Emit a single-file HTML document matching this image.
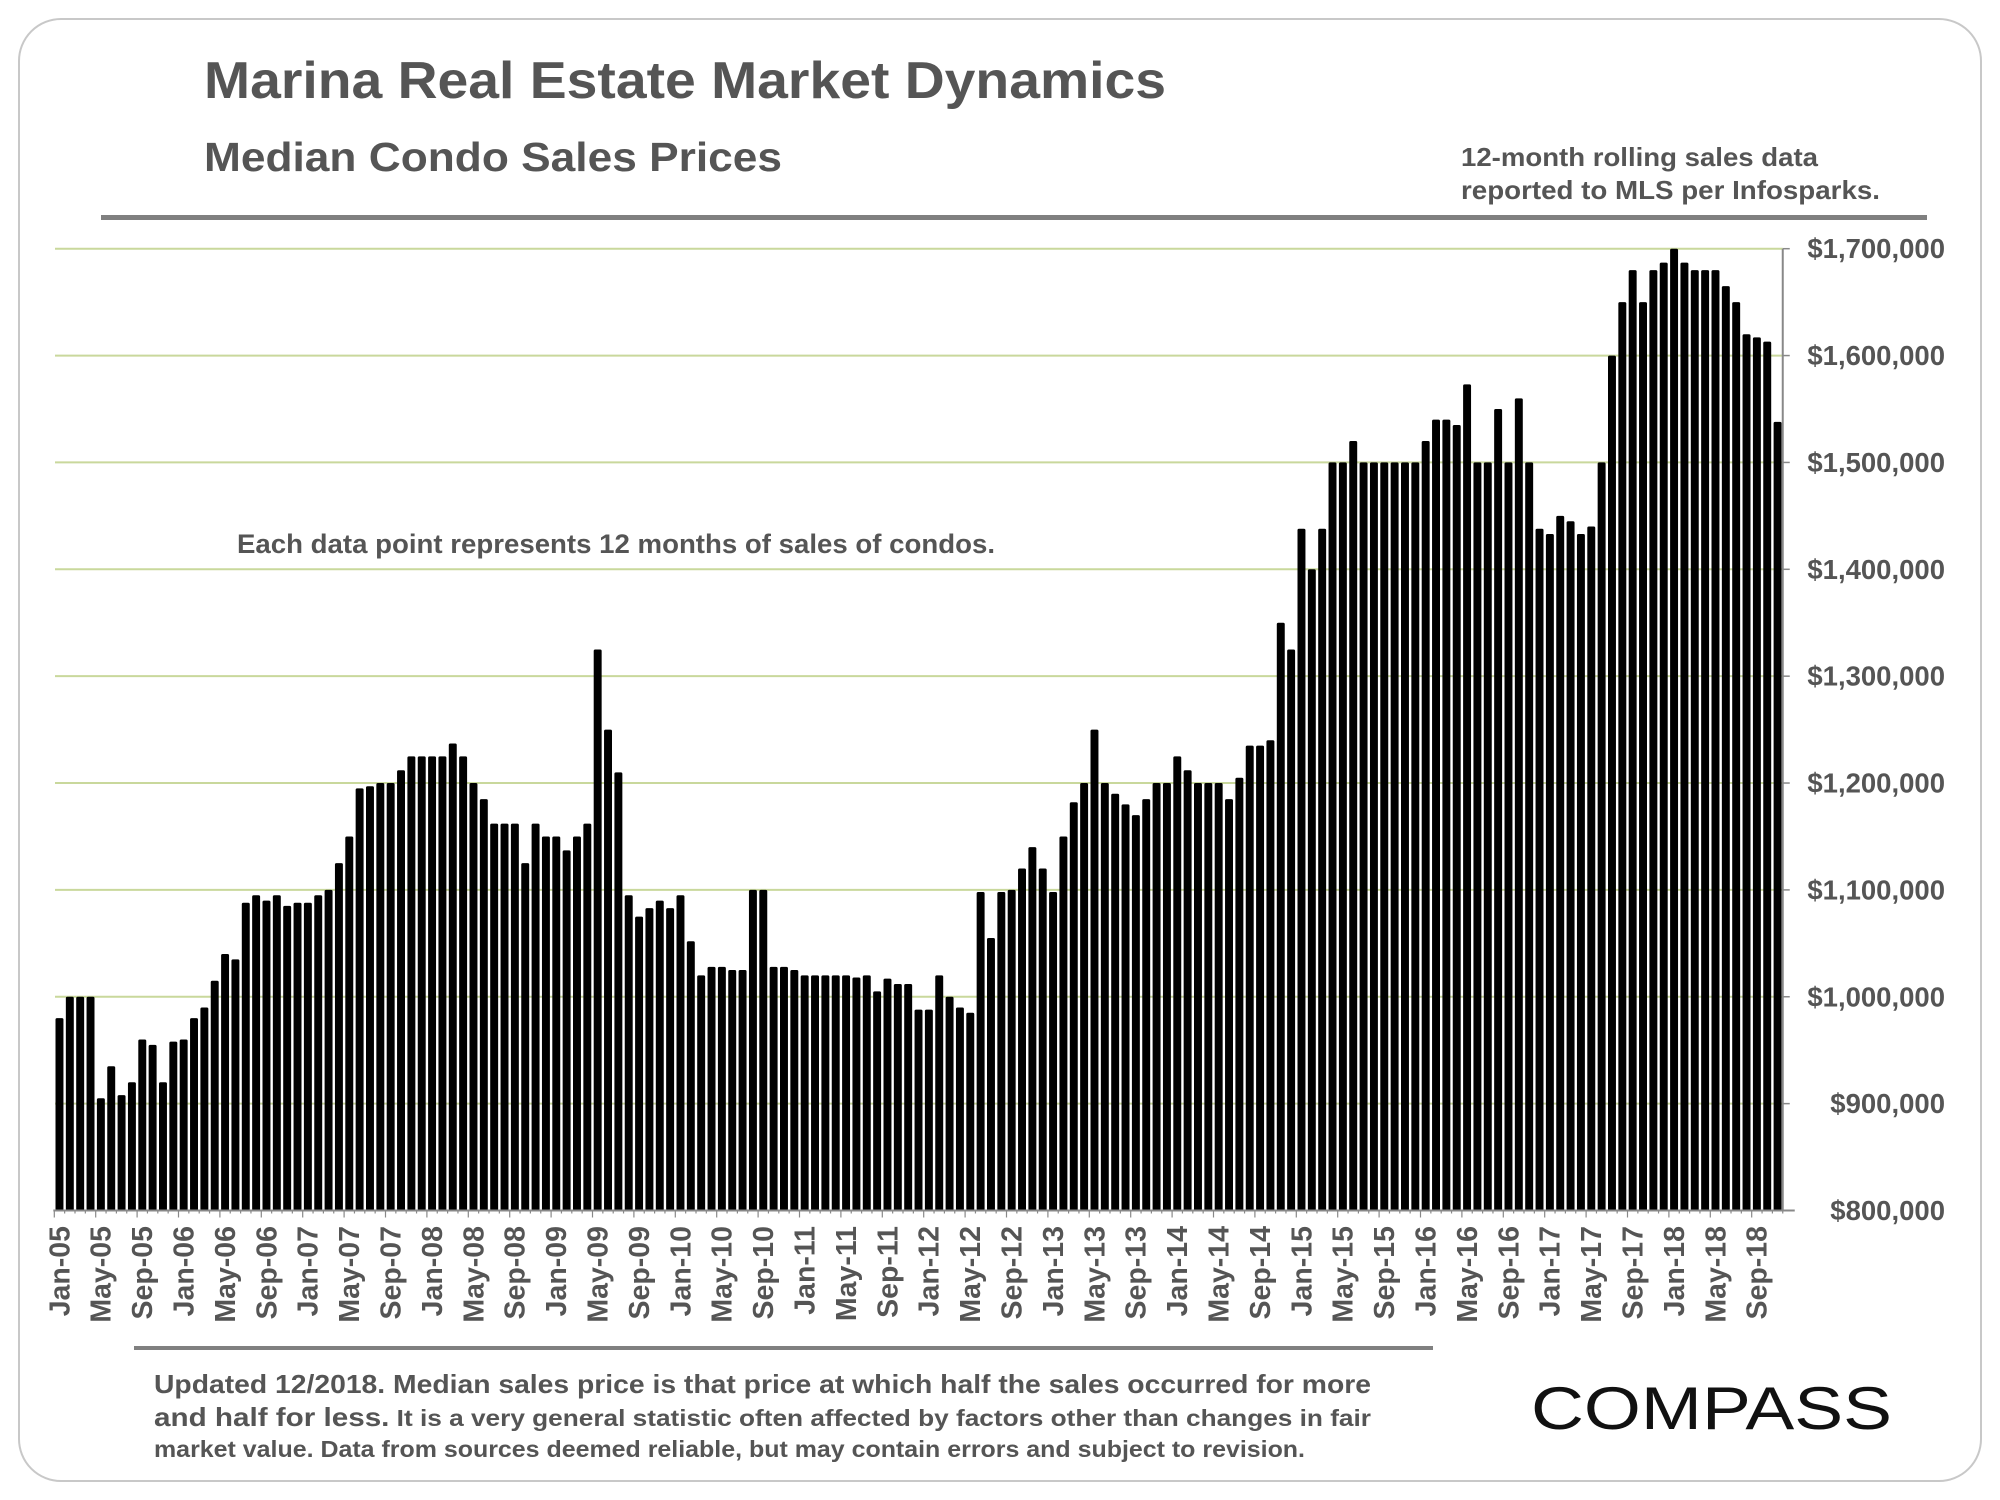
<!DOCTYPE html>
<html><head><meta charset="utf-8">
<style>
html,body{margin:0;padding:0;background:#fff;}
svg{display:block;font-family:"Liberation Sans",Arial,sans-serif;}
</style></head>
<body>
<svg id="chart" width="2000" height="1500" viewBox="0 0 2000 1500" xmlns="http://www.w3.org/2000/svg">
  <rect x="19" y="19" width="1962" height="1462" rx="42" ry="42" fill="#fff" stroke="#c8c8c8" stroke-width="2"/>
  <text x="204" y="98" font-size="52" font-weight="bold" fill="#555" textLength="962" lengthAdjust="spacingAndGlyphs">Marina Real Estate Market Dynamics</text>
  <text x="204" y="171" font-size="41" font-weight="bold" fill="#555" textLength="578" lengthAdjust="spacingAndGlyphs">Median Condo Sales Prices</text>
  <text x="1461" y="166" font-size="26" font-weight="bold" fill="#555" textLength="357" lengthAdjust="spacingAndGlyphs">12-month rolling sales data</text>
  <text x="1461" y="199" font-size="26" font-weight="bold" fill="#555" textLength="419" lengthAdjust="spacingAndGlyphs">reported to MLS per Infosparks.</text>
  <rect x="101" y="215" width="1826" height="5" fill="#808080"/>
  <g id="grid"></g>
  <g id="bars"></g>
  <g id="yaxis"></g>
  <g id="xaxis"></g>
  <text x="237" y="553" font-size="27" font-weight="bold" fill="#555" textLength="758" lengthAdjust="spacingAndGlyphs">Each data point represents 12 months of sales of condos.</text>
  <rect x="134" y="1346" width="1299" height="4" fill="#808080"/>
  <text x="154" y="1393" font-size="26" font-weight="bold" fill="#555" textLength="1217" lengthAdjust="spacingAndGlyphs">Updated 12/2018. Median sales price is that price at which half the sales occurred for more</text>
  <text x="154" y="1426" font-size="23" font-weight="bold" fill="#555" textLength="1217" lengthAdjust="spacingAndGlyphs"><tspan font-size="26">and half for less.</tspan> It is a very general statistic often affected by factors other than changes in fair</text>
  <text x="154" y="1457" font-size="23" font-weight="bold" fill="#555" textLength="1151" lengthAdjust="spacingAndGlyphs">market value. Data from sources deemed reliable, but may contain errors and subject to revision.</text>
  <text x="1531" y="1429" font-size="60" fill="#111" textLength="361" lengthAdjust="spacingAndGlyphs">COMPASS</text>
</svg>
<script>
const months = ["Jan","Feb","Mar","Apr","May","Jun","Jul","Aug","Sep","Oct","Nov","Dec"];
const years = ["05","06","07","08","09","10","11","12","13","14","15","16","17","18"];
const v2005 = [980,1000,1000,1000,905,935,908,920,960,955,920,958];
const v2006 = [960,980,990,1015,1040,1035,1088,1095,1090,1095,1085,1088];
const v2007 = [1088,1095,1100,1125,1150,1195,1197,1200,1200,1212,1225,1225];
const v2008 = [1225,1225,1237,1225,1200,1185,1162,1162,1162,1125,1162,1150];
const v2009 = [1150,1137,1150,1162,1325,1250,1210,1095,1075,1083,1090,1083];
const v2010 = [1095,1052,1020,1028,1028,1025,1025,1100,1100,1028,1028,1025];
const v2011 = [1020,1020,1020,1020,1020,1018,1020,1005,1017,1012,1012,988];
const v2012 = [988,1020,1000,990,985,1098,1055,1098,1100,1120,1140,1120];
const v2013 = [1098,1150,1182,1200,1250,1200,1190,1180,1170,1185,1200,1200];
const v2014 = [1225,1212,1200,1200,1200,1185,1205,1235,1235,1240,1350,1325];
const v2015 = [1438,1400,1438,1500,1500,1520,1500,1500,1500,1500,1500,1500];
const v2016 = [1520,1540,1540,1535,1573,1500,1500,1550,1500,1560,1500,1438];
const v2017 = [1433,1450,1445,1433,1440,1500,1600,1650,1680,1650,1680,1687];
const v2018 = [1700,1687,1680,1680,1680,1665,1650,1620,1617,1613,1538];
const values = [].concat(v2005,v2006,v2007,v2008,v2009,v2010,v2011,v2012,v2013,v2014,v2015,v2016,v2017,v2018);
const categories = values.map((_, i) => months[i % 12] + "-" + years[Math.floor(i / 12)]);
const yTicks = [800,900,1000,1100,1200,1300,1400,1500,1600,1700];
const yTickLabels = ["$800,000","$900,000","$1,000,000","$1,100,000","$1,200,000","$1,300,000","$1,400,000","$1,500,000","$1,600,000","$1,700,000"];

const NS = "http://www.w3.org/2000/svg";
const X0 = 54.3, PITCH = 10.35, Y0 = 1210.5, YTOP = 248.7, VMIN = 800, VMAX = 1700;
const AXR = X0 + values.length * PITCH;
function xScale(i){ return X0 + i * PITCH; }
function yScale(v){ return Y0 - (v - VMIN) / (VMAX - VMIN) * (Y0 - YTOP); }
function mk(tag, attrs, parent){
  const e = document.createElementNS(NS, tag);
  for (const k in attrs) e.setAttribute(k, attrs[k]);
  parent.appendChild(e);
  return e;
}
const grid = document.getElementById("grid");
const bars = document.getElementById("bars");
const yaxis = document.getElementById("yaxis");
const xaxis = document.getElementById("xaxis");

yTicks.forEach((t, k) => {
  const y = yScale(t);
  if (t > VMIN) {
    const g = mk("line", {x1: 55, x2: AXR, y1: y, y2: y, stroke: "#c9d89c", "stroke-width": 2}, grid);
    
    
  }
  const tk = mk("line", {x1: AXR, x2: AXR + 7, y1: y, y2: y, stroke: "#888", "stroke-width": 1.5}, yaxis);
  
  
  const lb = mk("text", {x: 1945, y: y + 9.5, "text-anchor": "end", "font-size": 27.5, "font-weight": "bold", fill: "#555"}, yaxis);
  lb.textContent = yTickLabels[k];
  
  
});
const yl = mk("line", {x1: AXR, x2: AXR, y1: YTOP, y2: Y0, stroke: "#888", "stroke-width": 2}, yaxis);



values.forEach((v, i) => {
  const x = xScale(i) + 1.2, y = yScale(v);
  const b = mk("rect", {x: x, y: y, width: PITCH - 2.4, height: Y0 - y, rx: 1.5, fill: "#000"}, bars);
  
  
});

const xl = mk("line", {x1: X0 - 1, x2: AXR + 12, y1: Y0, y2: Y0, stroke: "#888", "stroke-width": 2}, xaxis);


for (let i = 0; i <= values.length; i++) {
  const x = xScale(i);
  const t = mk("line", {x1: x, x2: x, y1: Y0, y2: Y0 + (i % 4 === 0 ? 7 : 3), stroke: "#888", "stroke-width": 1.2}, xaxis);
  
  
}
for (let i = 0; i < values.length; i += 4) {
  const cx = xScale(i) + 15, cy = 1226;
  const lb = mk("text", {x: cx, y: cy, "text-anchor": "end", "font-size": 28.5, "font-weight": "bold", fill: "#555", transform: "rotate(-90 " + cx + " " + cy + ")"}, xaxis);
  lb.textContent = categories[i];
  
  
}
</script>
</body></html>
